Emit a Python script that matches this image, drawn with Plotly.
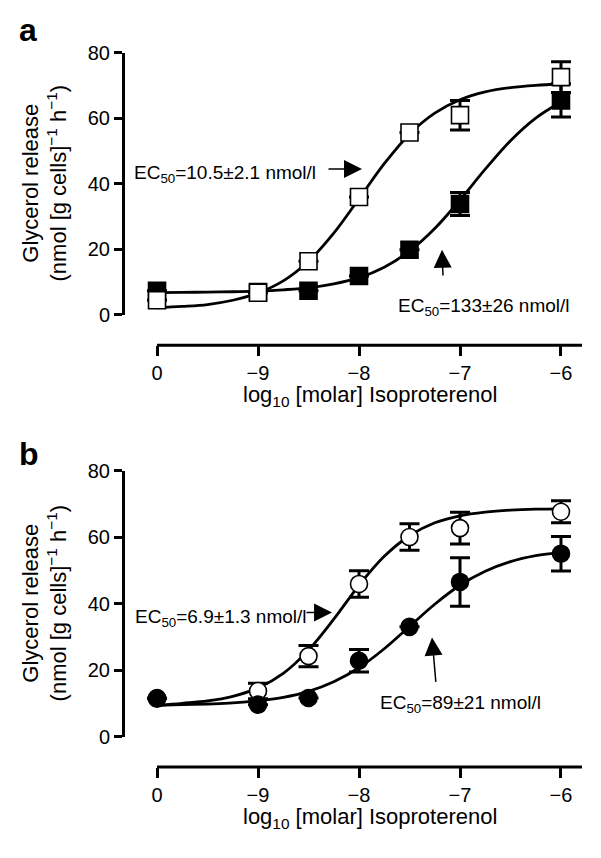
import plotly.graph_objects as go

# ---------------- data (control "0" is plotted at axis position -10) ----------------
x_pts = [-10, -9, -8.5, -8, -7.5, -7, -6]
tick_vals = [-10, -9, -8, -7, -6]
tick_text = ["0", "\u22129", "\u22128", "\u22127", "\u22126"]
y_ticks = [0, 20, 40, 60, 80]

# panel a (squares)
a_open = [4.5, 6.8, 16.4, 36.0, 55.7, 61.0, 72.6]
a_open_err = [None, None, None, None, None, 4.5, 4.7]
a_filled = [7.4, 7.0, 7.4, 11.9, 19.9, 33.9, 65.5]
a_filled_err = [None, None, None, None, None, 3.5, 5.1]

# panel b (circles)
b_open = [11.5, 13.8, 24.3, 46.0, 60.1, 62.8, 67.7]
b_open_err = [None, 2.3, 3.2, 4.0, 4.0, 4.8, 3.3]
b_filled = [11.7, 9.7, 11.7, 22.9, 33.1, 46.6, 55.1]
b_filled_err = [None, None, None, 3.4, None, 7.3, 5.2]

# fitted curves
x_fit = [-10, -9.75, -9.5, -9.25, -9, -8.75, -8.5, -8.25, -8, -7.75, -7.5,
         -7.25, -7, -6.75, -6.5, -6.25, -6]
a_open_fit = [2.2, 2.6, 3.2, 4.5, 6.7, 10.4, 16.4, 25.0, 35.5, 46.2, 55.2,
              61.6, 65.7, 68.1, 69.4, 70.1, 70.5]
a_filled_fit = [6.85, 6.9, 7.0, 7.1, 7.3, 7.7, 8.3, 9.5, 11.4, 14.6, 19.5,
                26.4, 35.1, 44.5, 53.2, 60.1, 65.0]
b_open_fit = [9.5, 10.1, 10.8, 12.2, 14.7, 19.1, 26.1, 35.4, 45.6, 54.3, 60.5,
              64.4, 66.5, 67.6, 68.2, 68.5, 68.6]
b_filled_fit = [9.5, 9.7, 9.9, 10.2, 10.9, 11.9, 13.7, 16.6, 20.8, 26.5, 33.2,
                39.9, 45.6, 49.8, 52.7, 54.5, 55.5]

FONT = "Liberation Sans, Arial, sans-serif"
W, H = 601, 858

fig = go.Figure()


def add_panel(fig, xa, ya, first, first_err, first_sym, first_fill,
              second, second_err, second_sym, second_fill, fit1, fit2):
    for fit in (fit1, fit2):
        fig.add_trace(go.Scatter(x=x_fit, y=fit, mode="lines", xaxis=xa, yaxis=ya,
                                 line=dict(color="black", width=2.8, shape="spline"),
                                 showlegend=False, hoverinfo="skip"))
    for vals, errs, sym, fill in ((first, first_err, first_sym, first_fill),
                                  (second, second_err, second_sym, second_fill)):
        fig.add_trace(go.Scatter(
            x=x_pts, y=vals, mode="markers", xaxis=xa, yaxis=ya, cliponaxis=False,
            marker=dict(symbol=sym, size=17, color=fill, line=dict(color="black", width=1.6)),
            error_y=dict(type="data", array=errs, visible=True, color="black",
                         thickness=3, width=10),
            showlegend=False))


# panel a: filled squares under open squares
add_panel(fig, "x", "y", a_filled, a_filled_err, "square", "black",
          a_open, a_open_err, "square", "white", a_filled_fit, a_open_fit)
# panel b: open circles under filled circles
add_panel(fig, "x2", "y2", b_open, b_open_err, "circle", "white",
          b_filled, b_filled_err, "circle", "black", b_open_fit, b_filled_fit)

xdom = [125 / W, 582 / W]
xrange_ = [-10.317, -5.792]
xpos_a = 1 - 343 / H
xpos_b = 1 - 776 / H

xcommon = dict(domain=xdom, range=xrange_, tickvals=tick_vals, ticktext=tick_text,
               ticks="outside", ticklen=10, tickwidth=3, tickcolor="black",
               showline=False, showgrid=False, zeroline=False, anchor="free",
               tickfont=dict(family=FONT, size=20, color="black"))
ycommon = dict(range=[0, 80], tickvals=y_ticks, ticks="outside", ticklen=8, tickwidth=3,
               tickcolor="black", showline=True, linewidth=3, linecolor="black",
               showgrid=False, zeroline=False,
               tickfont=dict(family=FONT, size=20, color="black"))

fig.update_layout(
    width=W, height=H, margin=dict(l=0, r=0, t=0, b=0),
    paper_bgcolor="white", plot_bgcolor="white", showlegend=False,
    xaxis=dict(**xcommon, position=xpos_a),
    yaxis=dict(**ycommon, domain=[1 - 312 / H, 1 - 43 / H], anchor="x"),
    xaxis2=dict(**xcommon, position=xpos_b),
    yaxis2=dict(**ycommon, domain=[1 - 745 / H, 1 - 472 / H], anchor="x2"),
)

# broken x-axis lines (start at the "0" tick)
for pos, xr in ((xpos_a, "x"), (xpos_b, "x2")):
    fig.add_shape(type="line", xref=xr, yref="paper", x0=-10, x1=xrange_[1],
                  y0=pos, y1=pos, line=dict(color="black", width=3))

ann = []
# panel letters
ann.append(dict(text="<b>a</b>", x=17 / W, y=1 - 20 / H, xref="paper", yref="paper",
                xanchor="left", yanchor="middle", showarrow=False,
                font=dict(family=FONT, size=32, color="black")))
ann.append(dict(text="<b>b</b>", x=17 / W, y=1 - 455 / H, xref="paper", yref="paper",
                xanchor="left", yanchor="middle", showarrow=False,
                font=dict(family=FONT, size=32, color="black")))

# y titles
ytitle = "Glycerol release<br>(nmol [g cells]<sup>\u22121</sup> h<sup>\u22121</sup>)"
for yc in (1 - 177 / H, 1 - 608 / H):
    ann.append(dict(text=ytitle, x=45 / W, y=yc, xref="paper", yref="paper",
                    xanchor="center", yanchor="middle", showarrow=False, textangle=-90,
                    font=dict(family=FONT, size=22, color="black")))
# x titles
xtitle = "log<sub>10</sub> [molar] Isoproterenol"
for yc in (1 - 395 / H, 1 - 828 / H):
    ann.append(dict(text=xtitle, x=370 / W, y=yc, xref="paper", yref="paper",
                    xanchor="center", yanchor="middle", showarrow=False,
                    font=dict(family=FONT, size=22, color="black")))

# EC50 labels
labels = [
    ("x", "y", "EC<sub>50</sub>=10.5\u00b12.1 nmol/l", -10.25, 43.0),
    ("x", "y", "EC<sub>50</sub>=133\u00b126 nmol/l", -7.634, 2.4),
    ("x2", "y2", "EC<sub>50</sub>=6.9\u00b11.3 nmol/l", -10.238, 35.8),
    ("x2", "y2", "EC<sub>50</sub>=89\u00b121 nmol/l", -7.812, 9.9),
]
for xr, yr, t, xx, yy in labels:
    ann.append(dict(text=t, x=xx, y=yy, xref=xr, yref=yr, xanchor="left",
                    yanchor="middle", showarrow=False,
                    font=dict(family=FONT, size=19, color="black")))

# arrows: (tail_x, tail_y) -> (tip_x, tip_y)
arrows = [
    ("x", "y", -8.317, 44.6, -7.97, 44.6),
    ("x", "y", -7.168, 11.6, -7.178, 19.9),
    ("x2", "y2", -8.535, 37.4, -8.267, 37.4),
    ("x2", "y2", -7.238, 16.1, -7.277, 29.9),
]
for xr, yr, tx, ty, hx, hy in arrows:
    ann.append(dict(text="", x=hx, y=hy, ax=tx, ay=ty, xref=xr, yref=yr, axref=xr,
                    ayref=yr, showarrow=True, arrowhead=2, arrowsize=2.4,
                    arrowwidth=1.5, arrowcolor="black", standoff=0, startstandoff=0))

fig.update_layout(annotations=ann)

fig.write_html(
    "out.html",
    config={"displayModeBar": False},
    post_script="document.body.style.margin='0';document.body.style.overflow='hidden';",
)
